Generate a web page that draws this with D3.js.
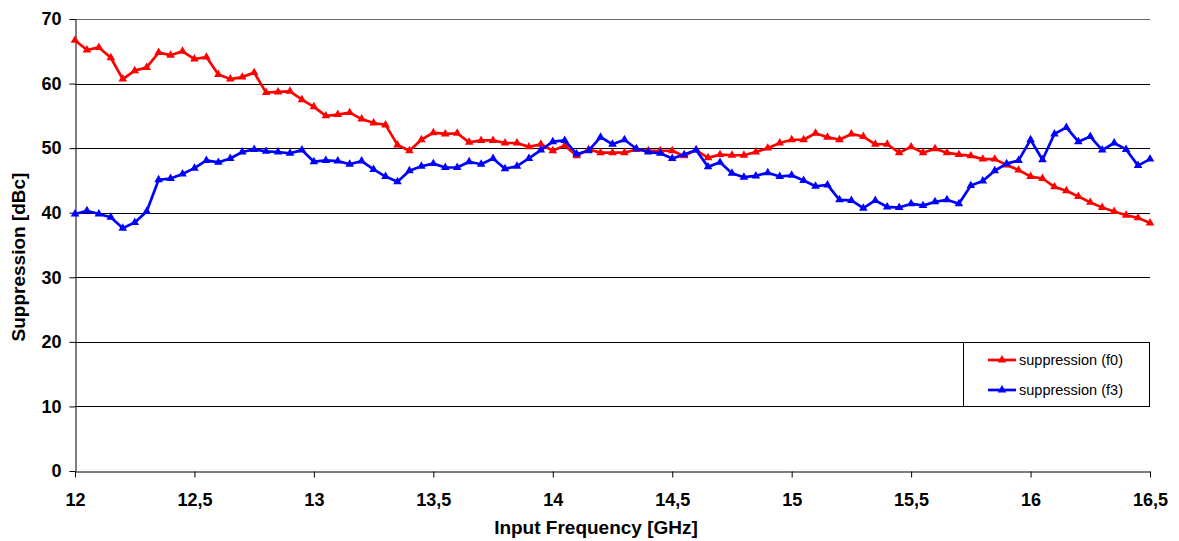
<!DOCTYPE html>
<html>
<head>
<meta charset="utf-8">
<script src="https://cdn.jsdelivr.net/npm/d3@7"></script>
<style>
  html, body { margin: 0; padding: 0; background: #fff; }
  svg { display: block; font-family: Arial, "Liberation Sans", sans-serif; }
</style>
</head>
<body>
<svg id="chart" width="1179" height="541"></svg>
<script>
// Frequency sweep 12.0 .. 16.5 GHz in 0.05 GHz steps
const frequencies = [
  12.00, 12.05, 12.10, 12.15, 12.20, 12.25, 12.30, 12.35, 12.40, 12.45,
  12.50, 12.55, 12.60, 12.65, 12.70, 12.75, 12.80, 12.85, 12.90, 12.95,
  13.00, 13.05, 13.10, 13.15, 13.20, 13.25, 13.30, 13.35, 13.40, 13.45,
  13.50, 13.55, 13.60, 13.65, 13.70, 13.75, 13.80, 13.85, 13.90, 13.95,
  14.00, 14.05, 14.10, 14.15, 14.20, 14.25, 14.30, 14.35, 14.40, 14.45,
  14.50, 14.55, 14.60, 14.65, 14.70, 14.75, 14.80, 14.85, 14.90, 14.95,
  15.00, 15.05, 15.10, 15.15, 15.20, 15.25, 15.30, 15.35, 15.40, 15.45,
  15.50, 15.55, 15.60, 15.65, 15.70, 15.75, 15.80, 15.85, 15.90, 15.95,
  16.00, 16.05, 16.10, 16.15, 16.20, 16.25, 16.30, 16.35, 16.40, 16.45,
  16.50
];

// Suppression of the f0 component [dBc]
const suppressionF0 = [
  66.7, 65.2, 65.6, 64.0, 60.7, 62.0, 62.5, 64.8, 64.4, 65.0,
  63.8, 64.1, 61.4, 60.7, 61.0, 61.7, 58.6, 58.7, 58.8, 57.5,
  56.4, 55.0, 55.2, 55.5, 54.5, 53.9, 53.6, 50.5, 49.6, 51.3,
  52.4, 52.2, 52.3, 50.9, 51.2, 51.2, 50.8, 50.8, 50.2, 50.6,
  49.6, 50.4, 48.8, 49.8, 49.3, 49.3, 49.3, 49.8, 49.6, 49.6,
  49.6, 48.8, 49.7, 48.5, 49.0, 48.9, 48.9, 49.4, 50.0, 50.8,
  51.3, 51.3, 52.3, 51.7, 51.3, 52.2, 51.8, 50.6, 50.6, 49.3,
  50.2, 49.3, 49.9, 49.3, 49.0, 48.8, 48.3, 48.3, 47.4, 46.6,
  45.6, 45.3, 44.0, 43.4, 42.5, 41.6, 40.8, 40.2, 39.6, 39.2,
  38.4
];

// Suppression of the f3 component [dBc]
const suppressionF3 = [
  39.8, 40.3, 39.8, 39.3, 37.6, 38.5, 40.2, 45.1, 45.3, 46.0,
  46.9, 48.1, 47.8, 48.4, 49.4, 49.8, 49.5, 49.4, 49.2, 49.7,
  47.9, 48.1, 48.0, 47.5, 48.0, 46.7, 45.6, 44.8, 46.5, 47.2,
  47.6, 47.0, 47.0, 47.9, 47.5, 48.4, 46.8, 47.2, 48.4, 49.7,
  51.0, 51.2, 49.1, 49.6, 51.7, 50.6, 51.3, 49.9, 49.4, 49.2,
  48.4, 49.0, 49.7, 47.1, 47.8, 46.1, 45.5, 45.7, 46.2, 45.6,
  45.8, 45.0, 44.1, 44.3, 42.0, 41.9, 40.7, 41.9, 40.9, 40.8,
  41.4, 41.1, 41.7, 42.0, 41.4, 44.2, 44.9, 46.5, 47.6, 48.1,
  51.3, 48.2, 52.2, 53.2, 51.0, 51.8, 49.7, 50.8, 49.8, 47.3,
  48.3
];

const xTicks = [12, 12.5, 13, 13.5, 14, 14.5, 15, 15.5, 16, 16.5];
const yTicks = [0, 10, 20, 30, 40, 50, 60, 70];
const seriesNames = ["suppression (f0)", "suppression (f3)"];
const seriesColors = ["#ff0000", "#0000ff"];

const svg = d3.select("#chart");
const margin = { left: 75, right: 29, top: 19, bottom: 70 };
const W = 1179, H = 541;

const x = d3.scaleLinear().domain([12, 16.5]).range([margin.left, W - margin.right]);
const y = d3.scaleLinear().domain([0, 70]).range([H - margin.bottom, margin.top]);

const commaFmt = d => String(d).replace(".", ",");
const FONT = "Arial, 'Liberation Sans', sans-serif";

// horizontal gridlines
svg.append("g")
  .selectAll("line")
  .data(yTicks.filter(d => d > 0))
  .join("line")
  .attr("x1", x(12)).attr("x2", x(16.5))
  .attr("y1", d => Math.round(y(d)) + 0.5).attr("y2", d => Math.round(y(d)) + 0.5)
  .attr("stroke", d => d === 70 ? "#666" : "#000").attr("stroke-width", 1);

// axes
const xAxis = d3.axisBottom(x).tickValues(xTicks).tickFormat(commaFmt).tickSize(6).tickSizeOuter(0);
const yAxis = d3.axisLeft(y).tickValues(yTicks).tickSize(6).tickSizeOuter(0);

const gx = svg.append("g")
  .attr("transform", `translate(0,${Math.round(y(0)) + 0.5})`)
  .call(xAxis);
gx.select(".domain").attr("stroke", "#000");
gx.selectAll(".tick line").attr("stroke", "#000");
gx.selectAll(".tick text")
  .attr("font-size", 18).attr("font-weight", "bold").attr("fill", "#000")
  .attr("font-family", FONT)
  .attr("y", 22).attr("dy", "0.71em");

const gy = svg.append("g")
  .attr("transform", `translate(${Math.round(x(12)) + 0.5},0)`)
  .call(yAxis);
gy.select(".domain").attr("stroke", "#000");
gy.selectAll(".tick line").attr("stroke", "#000");
gy.selectAll(".tick text")
  .attr("font-size", 18).attr("font-weight", "bold").attr("fill", "#000")
  .attr("font-family", FONT)
  .attr("x", -14);

// axis titles
svg.append("text")
  .attr("x", 596).attr("y", 534)
  .attr("text-anchor", "middle")
  .attr("font-size", 19).attr("font-weight", "bold")
  .text("Input Frequency [GHz]");

svg.append("text")
  .attr("transform", `translate(25,${(y(0) + y(70)) / 2 + 12}) rotate(-90)`)
  .attr("text-anchor", "middle")
  .attr("font-size", 19).attr("font-weight", "bold")
  .text("Suppression [dBc]");

// series
const series = [suppressionF0, suppressionF3];
const line = d3.line().x((d, i) => x(frequencies[i])).y(d => y(d));
const tri = d3.symbol().type(d3.symbolTriangle).size(32);

series.forEach((vals, k) => {
  const g = svg.append("g");
  g.append("path")
    .datum(vals)
    .attr("d", line)
    .attr("fill", "none")
    .attr("stroke", seriesColors[k])
    .attr("stroke-width", 2.7)
    .attr("stroke-linejoin", "round");
  g.selectAll("path.pt")
    .data(vals)
    .join("path")
    .attr("class", "pt")
    .attr("d", tri)
    .attr("transform", (d, i) => `translate(${x(frequencies[i])},${y(d)})`)
    .attr("fill", seriesColors[k]);
});

// legend
const lg = svg.append("g");
lg.append("rect")
  .attr("x", 963.5).attr("y", 342.5).attr("width", 186).attr("height", 64)
  .attr("fill", "#fff").attr("stroke", "#000").attr("stroke-width", 1);
seriesNames.forEach((name, k) => {
  const cy = 360 + k * 30;
  lg.append("line")
    .attr("x1", 988).attr("x2", 1016).attr("y1", cy).attr("y2", cy)
    .attr("stroke", seriesColors[k]).attr("stroke-width", 2.7);
  lg.append("path")
    .attr("d", tri)
    .attr("transform", `translate(1002,${cy})`)
    .attr("fill", seriesColors[k]);
  lg.append("text")
    .attr("x", 1019).attr("y", cy + 5)
    .attr("font-size", 14.5)
    .attr("font-family", FONT)
    .text(name);
});
</script>
</body>
</html>
